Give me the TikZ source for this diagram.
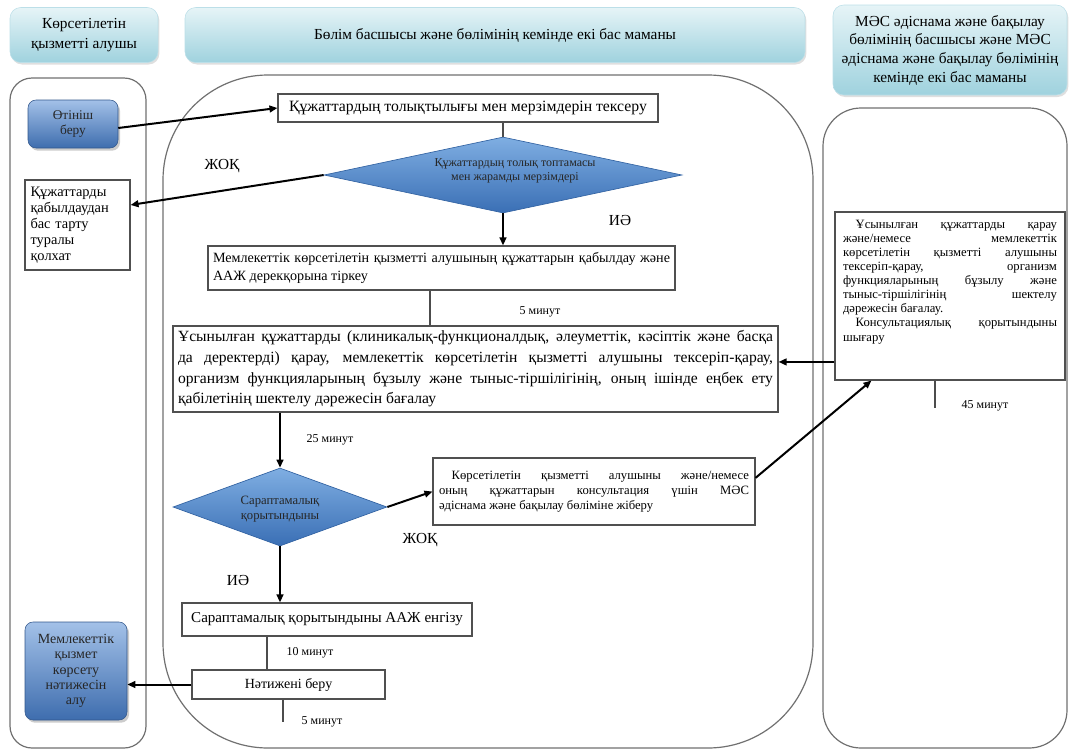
\documentclass[tikz,border=0pt]{standalone}
\usepackage{fontspec}
\setmainfont{Liberation Serif}
\usetikzlibrary{shapes.geometric,arrows.meta,calc,shadows}
\definecolor{hdtop}{HTML}{E6F4F7}
\definecolor{hdbot}{HTML}{9FD2DE}
\definecolor{bltop}{HTML}{A3C1E8}
\definecolor{blbot}{HTML}{3E6DAE}
\definecolor{dtop}{HTML}{7FAEE2}
\definecolor{dbot}{HTML}{3A6FB5}
\definecolor{lanegray}{HTML}{707070}
\definecolor{boxgray}{HTML}{505050}
\begin{document}
\begin{tikzpicture}[x=0.75pt,y=-0.75pt,
  hdr/.style={rounded corners=8pt, top color=hdtop, bottom color=hdbot, draw=hdbot!70!white,
    drop shadow={shadow xshift=1pt, shadow yshift=-1.5pt, opacity=0.25},
    align=center, font=\fontsize{11.5}{14}\selectfont},
  lane/.style={draw=lanegray, line width=0.9pt},
  bluebox/.style={rounded corners=6pt, top color=bltop, bottom color=blbot, draw=blbot!80!black,
    drop shadow={shadow xshift=1.5pt, shadow yshift=-2pt, opacity=0.4},
    align=center, text=black!85, font=\fontsize{10}{11.5}\selectfont, inner sep=2pt},
  wbox/.style={draw=boxgray, line width=0.8pt, fill=white, inner sep=3pt},
  dia/.style={diamond, inner sep=0pt, top color=dtop, bottom color=dbot, draw=dbot!90!black, line width=0.5pt},
  lbl/.style={font=\fontsize{11.5}{13}\selectfont},
  tlbl/.style={font=\fontsize{9}{11}\selectfont},
  arr/.style={line width=1.5pt, -{Triangle[length=6pt,width=5pt]}},
  tline/.style={draw=black!70, line width=0.8pt}
]
\useasboundingbox (0,0) rectangle (1070,750);

% headers
\node[hdr, minimum width=148*0.75pt, minimum height=55*0.75pt, font=\fontsize{11.5}{15}\selectfont] (h1) at (84,35) {Көрсетілетін\\қызметті алушы};
\node[hdr, minimum width=620*0.75pt, minimum height=55*0.75pt] (h2) at (495,35) {Бөлім басшысы және бөлімінің кемінде екі бас маманы};
\node[hdr, minimum width=234*0.75pt, minimum height=90*0.75pt] (h3) at (950,50) {МӘС әдіснама және бақылау\\бөлімінің басшысы және МӘС\\әдіснама және бақылау бөлімінің\\кемінде екі бас маманы};

% lanes
\draw[lane, rounded corners=22*0.75pt] (10,78) rectangle (146,748);
\draw[lane, rounded corners=105*0.75pt] (163,75) rectangle (813,748);
\draw[lane, rounded corners=38*0.75pt] (823,108) rectangle (1067,748);

% left lane nodes
\node[bluebox, minimum width=90*0.75pt, minimum height=48*0.75pt] (app) at (73,124) {Өтініш\\беру};
\node[wbox, minimum width=105*0.75pt, minimum height=90*0.75pt, text width=94*0.75pt, align=left,
  font=\fontsize{10.8}{12}\selectfont, inner sep=2pt] (reject) at (77.5,225) {Құжаттарды\\қабылдаудан\\бас тарту\\туралы\\қолхат};
\node[bluebox, minimum width=102*0.75pt, minimum height=98*0.75pt, font=\fontsize{10.5}{11.5}\selectfont] (result) at (76,671) {Мемлекеттік\\қызмет\\көрсету\\нәтижесін\\алу};

% middle lane
\node[wbox, minimum width=380*0.75pt, minimum height=28*0.75pt, font=\fontsize{11.8}{13}\selectfont] (check) at (468,108) {Құжаттардың толықтылығы мен мерзімдерін тексеру};
\node[dia, minimum width=358*0.75pt, minimum height=76*0.75pt] (d1) at (503,175) {};
\node[align=center, font=\fontsize{9}{11}\selectfont, text=black!85] (d1t) at (515,171) {Құжаттардың толық топтамасы\\мен жарамды мерзімдері};
\node[lbl] (no1) at (222,166) {ЖОҚ};
\node[lbl] (yes1) at (620,220) {ИӘ};
\node[wbox, minimum width=467*0.75pt, minimum height=44*0.75pt, text width=457*0.75pt, align=justify,
  font=\fontsize{10.6}{13}\selectfont, inner sep=2pt] (box2) at (441.5,268) {Мемлекеттік көрсетілетін қызметті алушының құжаттарын қабылдау және\linebreak ААЖ дерекқорына тіркеу};
\node[tlbl] (t5a) at (540,312) {5 минут};
\node[wbox, minimum width=605*0.75pt, minimum height=86*0.75pt, text width=595*0.75pt, align=justify,
  font=\fontsize{11.7}{15.5}\selectfont, inner sep=2pt] (big) at (475.5,369) {Ұсынылған құжаттарды (клиникалық-функционалдық, әлеуметтік, кәсіптік және басқа\linebreak да деректерді) қарау, мемлекеттік көрсетілетін қызметті алушыны тексеріп-қарау,\linebreak организм функцияларының бұзылу және тыныс-тіршілігінің, оның ішінде еңбек ету\linebreak қабілетінің шектелу дәрежесін бағалау};
\node[tlbl] (t25) at (330,440) {25 минут};
\node[dia, minimum width=214*0.75pt, minimum height=78*0.75pt] (d2) at (280,507) {};
\node[align=center, font=\fontsize{9.5}{11.5}\selectfont, text=black!85] (d2t) at (280,509) {Сараптамалық\\қорытындыны};
\node[wbox, minimum width=322*0.75pt, minimum height=67*0.75pt, text width=310*0.75pt, align=justify,
  font=\fontsize{9.5}{11.5}\selectfont] (box3) at (594,491.5) {\hspace*{1em}Көрсетілетін қызметті алушыны және/немесе\linebreak оның құжаттарын консультация үшін МӘС\linebreak әдіснама және бақылау бөліміне жіберу};
\node[lbl] (no2) at (420,540) {ЖОҚ};
\node[lbl] (yes2) at (238,580) {ИӘ};
\node[wbox, minimum width=290*0.75pt, minimum height=33*0.75pt, font=\fontsize{11.3}{12}\selectfont] (box4) at (327,619.5) {Сараптамалық қорытындыны ААЖ енгізу};
\node[tlbl] (t10) at (310,653) {10 минут};
\node[wbox, minimum width=193*0.75pt, minimum height=29*0.75pt, font=\fontsize{10.5}{12}\selectfont] (box5) at (288.5,684.5) {Нәтижені беру};
\node[tlbl] (t5b) at (322,722) {5 минут};

% right lane
\node[wbox, minimum width=230*0.75pt, minimum height=168*0.75pt] (rbox) at (950,296) {};
\node[anchor=north, text width=214*0.75pt, align=justify, font=\fontsize{9.5}{10.6}\selectfont] (rboxt) at (950,215)
 {\hspace*{1em}Ұсынылған құжаттарды қарау\linebreak және/немесе мемлекеттік\linebreak көрсетілетін қызметті алушыны\linebreak тексеріп-қарау, организм\linebreak функцияларының бұзылу және\linebreak тыныс-тіршілігінің шектелу\linebreak дәрежесін бағалау.\par
 \hspace*{1em}Консультациялық қорытындыны\linebreak шығару};
\node[tlbl] (t45) at (985,406) {45 минут};

% coordinates
\coordinate (x5a) at (430,0);
\coordinate (x10) at (267,0);
\coordinate (x5b) at (283,0);
\coordinate (x45) at (935,0);
\coordinate (end5b) at (283,722);
\coordinate (end45) at (935,408);

% connectors
\draw[arr] ([yshift=-3pt]app.east) -- (check.west);
\draw[tline] (d1.north |- check.south) -- (d1.north);
\draw[arr] (d1.west) -- ($(reject.north east)!0.28!(reject.south east)$);
\draw[arr] (d1.south) -- (d1.south |- box2.north);
\draw[tline] (box2.south -| x5a) -- (big.north -| x5a);
\draw[arr] (big.south -| d2.north) -- (d2.north);
\draw[arr] (d2.east) -- (box3.west);
\draw[arr] (d2.south) -- (d2.south |- box4.north);
\draw[tline] (box4.south -| x10) -- (box5.north -| x10);
\draw[arr] (box5.west) -- (box5.west -| result.east);
\draw[tline] (box5.south -| x5b) -- (end5b);
\draw[arr] ($(box3.north east)!0.3!(box3.south east)$) -- ($(rbox.south west)!0.16!(rbox.south east)$);
\coordinate (rin) at ($(rbox.north west)!0.89!(rbox.south west)$);
\draw[arr] (rin) -- (rin -| big.east);
\draw[tline] (rbox.south -| x45) -- (end45);
\end{tikzpicture}
\end{document}
